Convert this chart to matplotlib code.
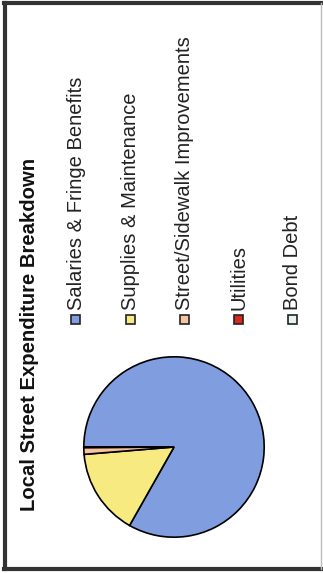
import matplotlib.pyplot as plt
from matplotlib.patches import Rectangle
from matplotlib.lines import Line2D

# expenditure shares (percent)
labels = ["Salaries & Fringe Benefits", "Supplies & Maintenance",
          "Street/Sidewalk Improvements", "Utilities", "Bond Debt"]
shares = [83.2, 15.5, 1.2, 0.1, 0.0]
colors = ["#7f9ddf", "#f7ea80", "#f6c4a0", "#d9281e", "#e8f3f0"]
title = "Local Street Expenditure Breakdown"

W, H = 323, 573
fig = plt.figure(figsize=(W / 100, H / 100), dpi=100)
fig.patch.set_facecolor("white")


def fx(x):
    return x / W


def fy(y):
    return 1 - y / H


# outer frame
fig.add_artist(Line2D([fx(5), fx(5)], [fy(3), fy(569)], color="#333333", lw=3))
fig.add_artist(Line2D([fx(4), fx(322)], [fy(3), fy(3)], color="#333333", lw=3))
fig.add_artist(Line2D([fx(4), fx(322)], [fy(569), fy(569)], color="#333333", lw=3))
fig.add_artist(Line2D([fx(321), fx(321)], [fy(3), fy(569)], color="#bbbbbb", lw=1))

# pie, chart is laid on its side
cx, cy, r = 174, 447, 92
ax = fig.add_axes([fx(cx - r), fy(cy + r), 2 * r / W, 2 * r / H])
ax.pie(shares, colors=colors, startangle=180, counterclock=False,
       wedgeprops=dict(edgecolor="black", linewidth=1.2))
ax.set_xlim(-1.02, 1.02)
ax.set_ylim(-1.02, 1.02)
ax.axis("off")

fig.text(fx(35), fy(511), title, rotation=90, rotation_mode="anchor",
         ha="left", va="baseline", fontsize=14.6, fontweight="bold",
         family="Liberation Sans", color="#111111")

# legend drawn sideways
leg_x = [75, 130, 184, 238, 292]
for x, lab, col in zip(leg_x, labels, colors):
    fig.add_artist(Rectangle((fx(x - 4.5), fy(324)), 9 / W, 9 / H,
                             facecolor=col, edgecolor="#222222", lw=1.2))
    fig.text(fx(x + 6.5), fy(310), lab, rotation=90, rotation_mode="anchor",
             ha="left", va="baseline", fontsize=14.5, family="Liberation Sans",
             color="#222222")

fig.savefig("out.png", dpi=100)
